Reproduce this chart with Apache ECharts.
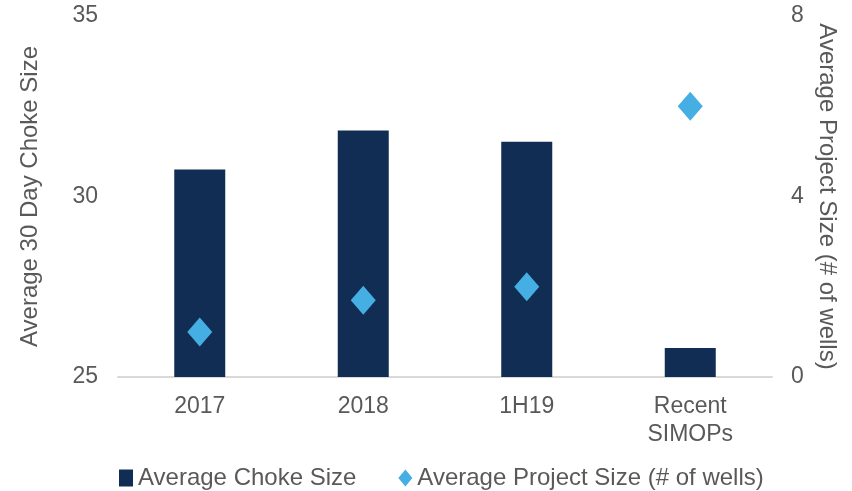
<!DOCTYPE html>
<html>
<head>
<meta charset="utf-8">
<script src="https://cdn.jsdelivr.net/npm/echarts@6/dist/echarts.min.js"></script>
<style>
  html, body { margin: 0; padding: 0; background: #fff; }
  #chart { width: 852px; height: 491px; }
</style>
</head>
<body>
<div id="chart"></div>
<script>
// chart data
const categories = ['2017', '2018', '1H19', 'Recent\nSIMOPs']
const chokeSize = [30.75, 31.83, 31.52, 25.8]
const projectSize = [1.0, 1.7, 2.0, 6.0]
const leftTicks = [25, 30, 35]
const rightTicks = [0, 4, 8]

const textColor = '#595959'
const fontFamily = '"Liberation Sans", Arial, sans-serif'
const fs = 23
const bigFs = 24

const chart = echarts.init(document.getElementById('chart'))

chart.setOption({
  animation: false,
  textStyle: { fontFamily: fontFamily },
  grid: {
    left: 118,
    right: 80,
    top: 16,
    bottom: 114
  },
  legend: {
    top: 461,
    left: 114,
    itemGap: 42,
    itemWidth: 14,
    itemHeight: 17,
    textStyle: { color: textColor, fontSize: bigFs, fontFamily: fontFamily },
    data: [
      { name: 'Average Choke Size', icon: 'rect' },
      { name: 'Average Project Size (# of wells)', icon: 'diamond' }
    ]
  },
  xAxis: [{
    type: 'category',
    data: categories,
    axisTick: { show: false },
    axisLine: { lineStyle: { color: '#D9D9D9', width: 2 } },
    axisLabel: {
      color: textColor,
      fontSize: fs,
      margin: 16,
      lineHeight: 28
    }
  }],
  yAxis: [
    {
      type: 'value',
      min: leftTicks[0],
      max: leftTicks[leftTicks.length - 1],
      interval: 5,
      name: 'Average 30 Day Choke Size',
      nameLocation: 'middle',
      nameGap: 76,
      nameRotate: 90,
      nameTextStyle: { color: textColor, fontSize: bigFs },
      axisLine: { show: false },
      axisTick: { show: false },
      splitLine: { show: false },
      axisLabel: { color: textColor, fontSize: fs, margin: 20 }
    },
    {
      type: 'value',
      min: rightTicks[0],
      max: rightTicks[rightTicks.length - 1],
      interval: 4,
      position: 'right',
      name: 'Average Project Size (# of wells)',
      nameLocation: 'middle',
      nameGap: 42,
      nameRotate: -90,
      nameTextStyle: { color: textColor, fontSize: bigFs },
      axisLine: { show: false },
      axisTick: { show: false },
      splitLine: { show: false },
      axisLabel: { color: textColor, fontSize: fs, margin: 19 }
    }
  ],
  series: [
    {
      name: 'Average Choke Size',
      type: 'bar',
      yAxisIndex: 0,
      barWidth: 51,
      data: chokeSize,
      itemStyle: { color: '#112D53' }
    },
    {
      name: 'Average Project Size (# of wells)',
      type: 'scatter',
      yAxisIndex: 1,
      symbol: 'diamond',
      symbolSize: [25, 29],
      data: projectSize,
      z: 3,
      itemStyle: { color: '#45AEE2', opacity: 1 }
    }
  ]
})
</script>
</body>
</html>
